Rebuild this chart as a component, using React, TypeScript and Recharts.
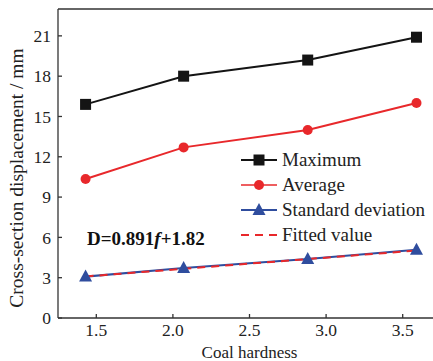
import { LineChart, Line, XAxis, YAxis, Label } from 'recharts';

const hardness = [1.43, 2.07, 2.88, 3.59];
const maximum = [15.9, 18.0, 19.2, 20.9];
const average = [10.35, 12.7, 14.0, 16.0];
const stdDev = [3.08, 3.72, 4.39, 5.08];
const fitHardness = [1.43, 3.59];
const fitted = [3.09, 5.02];
const xTicks = [1.5, 2.0, 2.5, 3.0, 3.5];
const yTicks = [0, 3, 6, 9, 12, 15, 18, 21];

const BLACK = '#141414';
const RED = '#e8282b';
const BLUE = '#2f4d9e';
const FONT = 'Liberation Serif, Times New Roman, serif';

const rows = hardness.map((x, i) => ({ x, max: maximum[i], avg: average[i], sd: stdDev[i] }));
const fitRows = fitHardness.map((x, i) => ({ x, fit: fitted[i] }));

const Square = (p: any) => (
  <rect x={p.cx - 5.5} y={p.cy - 5.5} width={11} height={11} fill={BLACK} />
);
const Triangle = (p: any) => (
  <polygon points={`${p.cx},${p.cy - 7} ${p.cx - 6.5},${p.cy + 5} ${p.cx + 6.5},${p.cy + 5}`} fill={BLUE} />
);

// y title sits at a fixed spot left of the ticks
const YTitle = () => (
  <text x={23} y={178} transform="rotate(-90, 23, 178)" textAnchor="middle"
        fontFamily={FONT} fontSize={19.5} fill="#222">
    Cross-section displacement / mm
  </text>
);

const legendItems = [
  { name: 'Maximum', color: BLACK, marker: 'square', dash: false },
  { name: 'Average', color: RED, marker: 'circle', dash: false },
  { name: 'Standard deviation', color: BLUE, marker: 'triangle', dash: false },
  { name: 'Fitted value', color: RED, marker: 'none', dash: true },
];

function LegendBox() {
  return (
    <div style={{ position: 'absolute', left: 240, top: 147, fontFamily: FONT, fontSize: 19, color: '#222' }}>
      {legendItems.map(it => (
        <div key={it.name} style={{ display: 'flex', alignItems: 'center', height: 25 }}>
          <svg width={38} height={20} style={{ marginRight: 4 }}>
            <line x1={1} y1={10} x2={37} y2={10} stroke={it.color} strokeWidth={it.marker === 'circle' ? 1.5 : 2}
                  strokeDasharray={it.dash ? '8 6' : undefined} />
            {it.marker === 'square' && <rect x={13.5} y={4.5} width={11} height={11} fill={it.color} />}
            {it.marker === 'circle' && <circle cx={19} cy={10} r={5} fill={it.color} />}
            {it.marker === 'triangle' && <polygon points="19,3 12.5,15 25.5,15" fill={it.color} />}
          </svg>
          <span>{it.name}</span>
        </div>
      ))}
    </div>
  );
}

export default function App() {
  const tickStyle = { fontSize: 17.5, fill: '#222', fontFamily: FONT };
  return (
    <div style={{ position: 'absolute', left: 0, top: 0, width: 433, height: 361, overflow: 'hidden', background: '#fff', fontFamily: FONT }}>
      <LineChart width={445} height={361} margin={{ top: 8, right: 4, left: 0, bottom: 0 }}>
        <XAxis xAxisId="top" orientation="top" type="number" dataKey="x" domain={[1.25, 3.75]} ticks={xTicks}
               height={1} tick={false} tickSize={-4} stroke="#333" strokeWidth={1.3} />
        <XAxis xAxisId="b" type="number" dataKey="x" domain={[1.25, 3.75]} ticks={xTicks}
               tickFormatter={(v: number) => v.toFixed(1)} height={43} tickSize={-4} tickMargin={10}
               tick={tickStyle} stroke="#333" strokeWidth={1.3}
               label={{ value: 'Coal hardness', position: 'insideBottom', offset: 3, fontSize: 17, fill: '#222', fontFamily: FONT }} />
        <YAxis type="number" domain={[0, 23]} ticks={yTicks} width={58} tickSize={-4} tickMargin={11}
               tick={tickStyle} stroke="#333" strokeWidth={1.3}>
          <Label content={<YTitle />} />
        </YAxis>
        <Line xAxisId="b" data={rows} dataKey="max" name="Maximum" stroke={BLACK} strokeWidth={2}
              dot={<Square />} isAnimationActive={false} />
        <Line xAxisId="b" data={rows} dataKey="avg" name="Average" stroke={RED} strokeWidth={2}
              dot={{ r: 5, fill: RED, stroke: RED, strokeWidth: 0 }} isAnimationActive={false} />
        <Line xAxisId="b" data={rows} dataKey="sd" name="Standard deviation" stroke={BLUE} strokeWidth={2.2}
              dot={false} isAnimationActive={false} />
        <Line xAxisId="b" data={fitRows} dataKey="fit" name="Fitted value" stroke={RED} strokeWidth={2}
              strokeDasharray="8 6" dot={false} isAnimationActive={false} />
        <Line xAxisId="b" data={rows} dataKey="sd" name="sd markers" stroke="none" strokeWidth={0}
              dot={<Triangle />} isAnimationActive={false} legendType="none" />
      </LineChart>
      <LegendBox />
      <div style={{ position: 'absolute', left: 87, top: 228, fontFamily: FONT, fontSize: 19, fontWeight: 'bold', color: '#111' }}>
        D=0.891<i>f</i>+1.82
      </div>
    </div>
  );
}
